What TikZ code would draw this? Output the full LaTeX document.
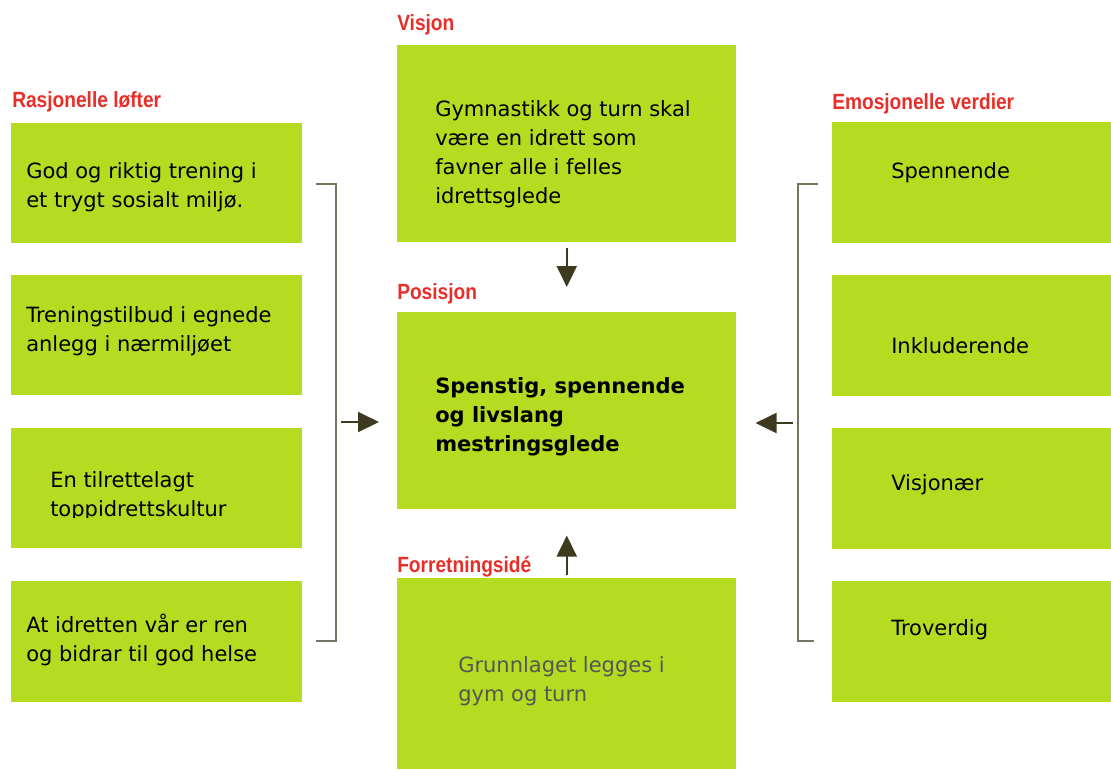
\documentclass[tikz,border=0pt]{standalone}
\usepackage{fontspec}
\usepackage{graphicx}
\setmainfont{DejaVu Sans}
\newfontfamily\headfont{Liberation Sans}
\usetikzlibrary{arrows.meta}
\definecolor{boxgreen}{RGB}{181,220,32}
\definecolor{headred}{RGB}{232,46,40}
\definecolor{arrowc}{RGB}{61,58,31}
\definecolor{brkc}{RGB}{120,116,100}
\definecolor{graytext}{RGB}{85,85,85}
\tikzset{
  box/.style={fill=boxgreen, draw=none, anchor=north west, inner sep=0},
  lbox/.style={box, minimum width=218.25pt, minimum height=90pt},
  rbox/.style={box, minimum width=209.25pt, minimum height=90.75pt},
  cbox/.style={box, minimum width=254.25pt, minimum height=147.75pt},
  txt/.style={anchor=west, align=left, inner sep=0, font=\fontsize{15.75}{21.75}\selectfont},
  heading/.style={anchor=base west, inner sep=0, text=headred, font=\headfont\bfseries\fontsize{16.5}{18}\selectfont},
  arr/.style={draw=arrowc, line width=1.5pt, -{Triangle[length=15.75pt,width=15pt]}},
  brk/.style={draw=brkc, line width=1.1pt}
}
\newcommand{\hd}[1]{\scalebox{0.87}[1]{#1}}
\begin{document}
\begin{tikzpicture}[x=0.75pt,y=-0.75pt]
\useasboundingbox (0,0) rectangle (1111,769);
% headings
\node[heading] (hL) at (12,107) {\hd{Rasjonelle løfter}};
\node[heading] (hV) at (397,30) {\hd{Visjon}};
\node[heading] (hP) at (397,299) {\hd{Posisjon}};
\node[heading] (hF) at (397,572) {\hd{Forretningsidé}};
\node[heading] (hR) at (832,109) {\hd{Emosjonelle verdier}};
% left boxes
\node[lbox] (L1) at (11,123) {};
\node[lbox] (L2) at (11,275) {};
\node[lbox] (L3) at (11,428) {};
\node[lbox, minimum height=90.75pt] (L4) at (11,581) {};
% center boxes
\node[cbox] (vis) at (397,45) {};
\node[cbox] (pos) at (397,312) {};
\node[cbox, minimum height=143.25pt] (forr) at (397,578) {};
% right boxes
\node[rbox] (R1) at (832,122) {};
\node[rbox] (R2) at (832,275) {};
\node[rbox] (R3) at (832,428) {};
\node[rbox] (R4) at (832,581) {};
% texts
\node[txt] (tL1) at (26,187.5) {God og riktig trening i\\et trygt sosialt miljø.};
\node[txt] (tL2) at (26,331.5) {Treningstilbud i egnede\\anlegg i nærmiljøet};
\begin{scope}
\clip (0,0) rectangle (1111,517);
\node[txt] (tL3) at (50,496.5) {En tilrettelagt\\toppidrettskultur};
\end{scope}
\node[txt] (tL4) at (26,639.5) {At idretten vår er ren\\og bidrar til god helse};
\node[txt] (tV) at (435,154) {Gymnastikk og turn skal\\være en idrett som\\favner alle i felles\\idrettsglede};
\node[txt, font=\bfseries\fontsize{15.75}{21.75}\selectfont] (tP) at (435,417) {Spenstig, spennende\\og livslang\\mestringsglede};
\node[txt, text=graytext] (tF) at (458,681.5) {Grunnlaget legges i\\gym og turn};
\node[txt] (tR1) at (891,172.5) {Spennende};
\node[txt] (tR2) at (891,345.5) {Inkluderende};
\node[txt] (tR3) at (891,484.5) {Visjonær};
\node[txt] (tR4) at (891,629.5) {Troverdig};
% brackets
\coordinate (lb1) at (316,184);
\coordinate (lb2) at (336,184);
\coordinate (lb3) at (336,641);
\coordinate (lb4) at (316,641);
\coordinate (lbm) at (341,422);
\draw[brk] (lb1) -- (lb2) -- (lb3) -- (lb4);
\coordinate (rb1) at (818,184);
\coordinate (rb2) at (798,184);
\coordinate (rb3) at (798,641);
\coordinate (rb4) at (814,641);
\coordinate (rbm) at (793,423);
\draw[brk] (rb1) -- (rb2) -- (rb3) -- (rb4);
% arrows
\draw[arr, shorten >=13.5pt] (lbm) -- (lbm -| pos.west);
\draw[arr, shorten >=14.25pt] (rbm) -- (rbm -| pos.east);
\draw[arr, shorten <=3.75pt, shorten >=18.75pt] (vis.south) -- (pos.north);
\draw[arr, shorten <=2.25pt, shorten >=19.5pt] (forr.north) -- (pos.south);
\end{tikzpicture}
\end{document}
